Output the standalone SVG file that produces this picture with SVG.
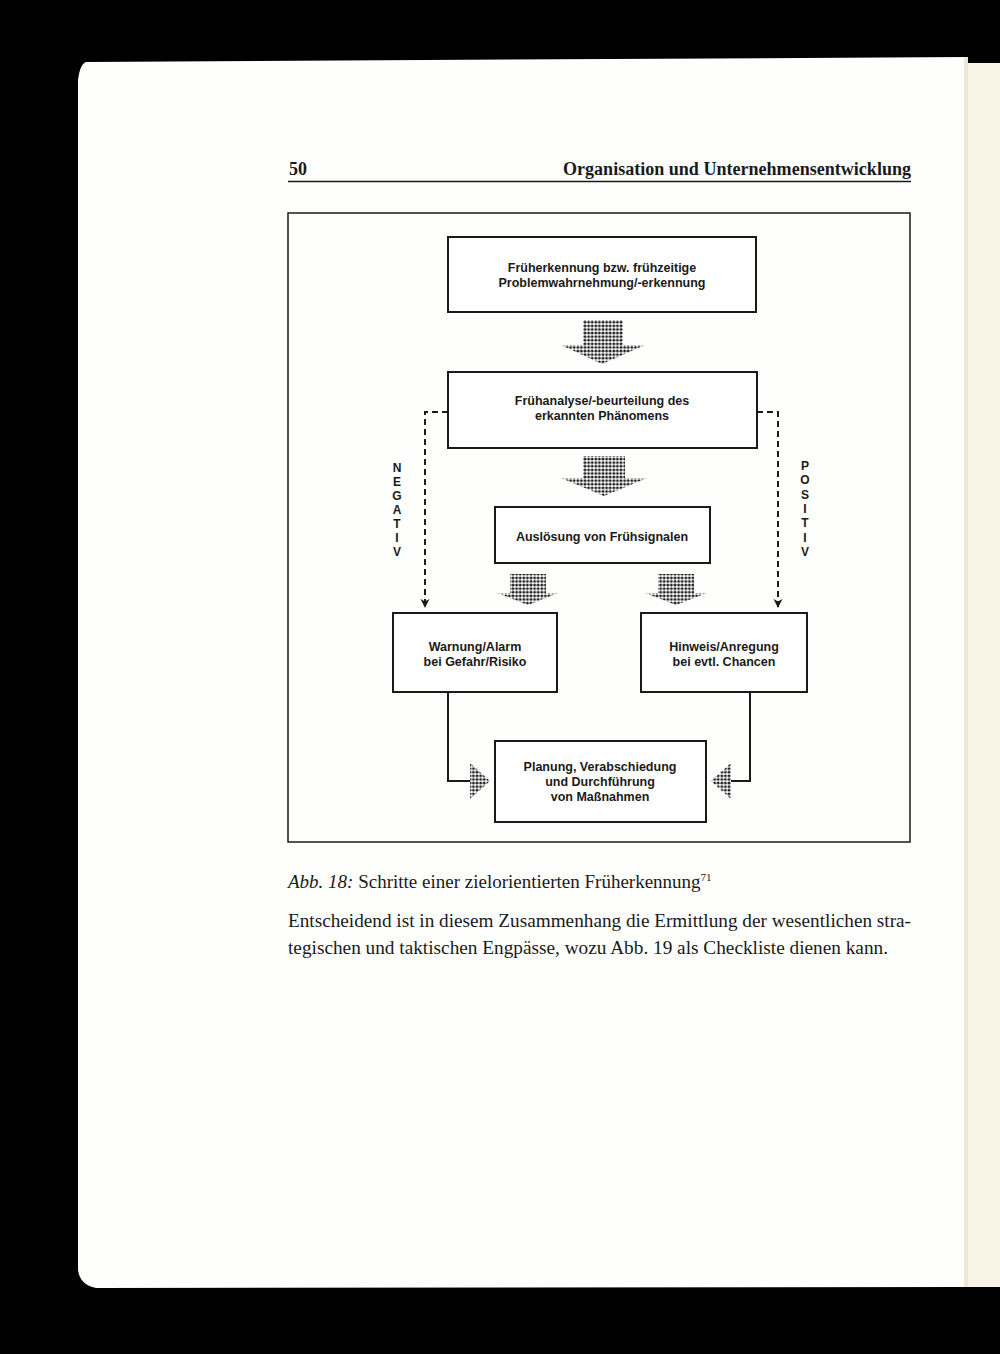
<svg xmlns="http://www.w3.org/2000/svg" width="1000" height="1354" viewBox="0 0 1000 1354">
<defs>
<pattern id="dots" width="3.6" height="3.6" patternUnits="userSpaceOnUse">
<rect width="3.6" height="3.6" fill="#ffffff"/>
<circle cx="1.8" cy="1.8" r="1.45" fill="#1a1a1a"/>
</pattern>
<marker id="ah" viewBox="0 0 10 10" refX="9" refY="5" markerWidth="9" markerHeight="10" markerUnits="userSpaceOnUse" orient="auto">
<path d="M0,0 L10,5 L0,10 L3,5 Z" fill="#1a1a1a"/>
</marker>
<style>
.box{fill:#ffffff;stroke:#1a1a1a;stroke-width:2}
.t{font-family:"Liberation Sans",Arial,sans-serif;font-size:12.5px;font-weight:700;fill:#1a1a1a;text-anchor:middle}
.lbl{font-family:"Liberation Sans",Arial,sans-serif;font-size:12px;font-weight:700;fill:#1a1a1a;text-anchor:middle}
.dash{fill:none;stroke:#1a1a1a;stroke-width:2;stroke-dasharray:6,4}
.line{fill:none;stroke:#1a1a1a;stroke-width:2}
.sh{fill:url(#dots)}
.serif{font-family:"Liberation Serif","Times New Roman",serif;fill:#1a1a1a}
</style>
</defs>
<rect x="0" y="0" width="1000" height="1354" fill="#000000"/>
<rect x="966" y="63" width="34" height="1224" fill="#f7f4e6"/>
<path d="M86,62 L965,57 L965,1287 L96,1288 Q80,1285 78,1270 L78,80 Q80,64 86,62 Z" fill="#fefefc"/>
<rect x="964" y="57" width="4" height="1230" fill="#ece8d2"/>

<g id="header">
<text class="serif" x="289" y="175" font-size="18" font-weight="700">50</text>
<text class="serif" x="911" y="175" font-size="18" font-weight="700" text-anchor="end" textLength="348" lengthAdjust="spacingAndGlyphs">Organisation und Unternehmensentwicklung</text>
<line x1="288" y1="181.5" x2="911" y2="181.5" stroke="#1a1a1a" stroke-width="1.5"/>
</g>

<rect id="frame" x="288" y="213" width="622" height="629" fill="none" stroke="#1a1a1a" stroke-width="1.5"/>

<g id="connectors">
<path class="dash" d="M448,412 H425 V607" marker-end="url(#ah)"/>
<path class="dash" d="M757,412 H778 V607" marker-end="url(#ah)"/>
<path class="line" d="M448,692 V781 H472"/>
<path class="line" d="M750,692 V781 H731"/>
<path class="sh" d="M583,320 H623 V345 H645 L602,364 L561,345 H583 Z"/>
<path class="sh" d="M583,456 H625 V478 H647 L604,496 L561,478 H583 Z"/>
<path class="sh" d="M510,574 H546 V593 H558 L528,605 L497,593 H510 Z"/>
<path class="sh" d="M658,574 H694 V593 H707 L676,605 L645,593 H658 Z"/>
<path class="sh" d="M470,772 V763 L490,781 L470,799 V790 Z"/>
<path class="sh" d="M731,772 V763 L711,781 L731,799 V790 Z"/>
</g>

<g id="n1"><rect class="box" x="448" y="237" width="308" height="75"/>
<text class="t" x="602" y="272">Früherkennung bzw. frühzeitige</text>
<text class="t" x="602" y="287">Problemwahrnehmung/-erkennung</text></g>

<g id="n2"><rect class="box" x="448" y="372" width="309" height="76"/>
<text class="t" x="602" y="405">Frühanalyse/-beurteilung des</text>
<text class="t" x="602" y="420">erkannten Phänomens</text></g>

<g id="n3"><rect class="box" x="495" y="507" width="215" height="56"/>
<text class="t" x="602" y="541">Auslösung von Frühsignalen</text></g>

<g id="n4"><rect class="box" x="393" y="613" width="164" height="79"/>
<text class="t" x="475" y="651">Warnung/Alarm</text>
<text class="t" x="475" y="666">bei Gefahr/Risiko</text></g>

<g id="n5"><rect class="box" x="641" y="613" width="166" height="79"/>
<text class="t" x="724" y="651">Hinweis/Anregung</text>
<text class="t" x="724" y="666">bei evtl. Chancen</text></g>

<g id="n6"><rect class="box" x="495" y="741" width="211" height="81"/>
<text class="t" x="600" y="771">Planung, Verabschiedung</text>
<text class="t" x="600" y="786">und Durchführung</text>
<text class="t" x="600" y="801">von Maßnahmen</text></g>

<g id="negativ">
<text class="lbl" x="397" y="472">N</text>
<text class="lbl" x="397" y="486">E</text>
<text class="lbl" x="397" y="500">G</text>
<text class="lbl" x="397" y="514">A</text>
<text class="lbl" x="397" y="528">T</text>
<text class="lbl" x="397" y="542">I</text>
<text class="lbl" x="397" y="556">V</text>
</g>
<g id="positiv">
<text class="lbl" x="805" y="470">P</text>
<text class="lbl" x="805" y="484">O</text>
<text class="lbl" x="805" y="499">S</text>
<text class="lbl" x="805" y="513">I</text>
<text class="lbl" x="805" y="527">T</text>
<text class="lbl" x="805" y="542">I</text>
<text class="lbl" x="805" y="556">V</text>
</g>

<g id="caption">
<text class="serif" x="288" y="888" font-size="19"><tspan font-style="italic">Abb. 18:</tspan> Schritte einer zielorientierten Früherkennung<tspan font-size="11" dy="-7">71</tspan></text>
<text class="serif" x="288" y="927" font-size="19" textLength="623" lengthAdjust="spacingAndGlyphs">Entscheidend ist in diesem Zusammenhang die Ermittlung der wesentlichen stra-</text>
<text class="serif" x="288" y="954" font-size="19" textLength="600" lengthAdjust="spacingAndGlyphs">tegischen und taktischen Engpässe, wozu Abb. 19 als Checkliste dienen kann.</text>
</g>
</svg>
